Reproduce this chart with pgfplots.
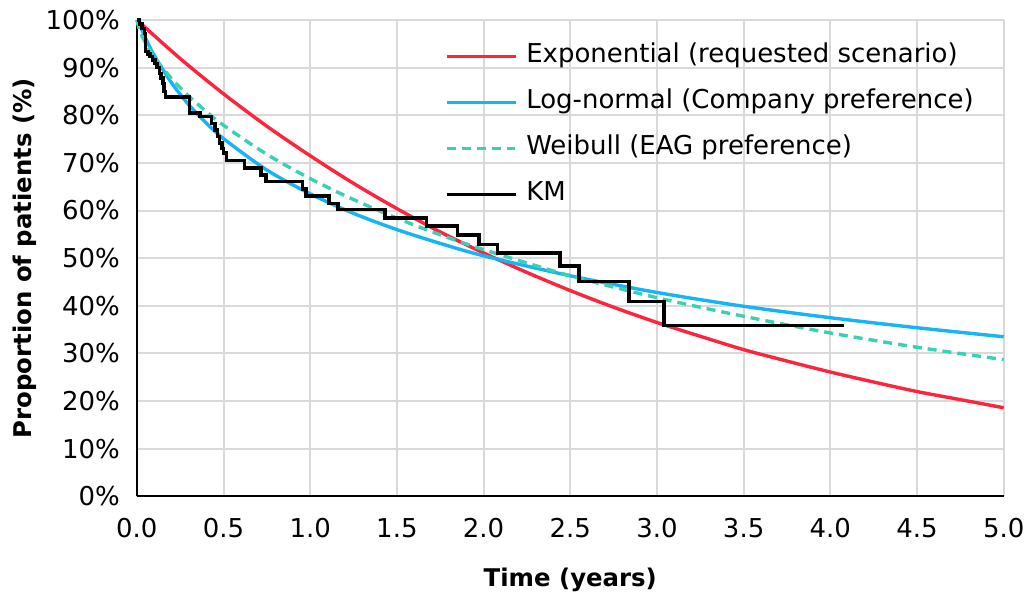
\documentclass[border=0pt]{standalone}
\usepackage{pgfplots}
\pgfplotsset{compat=1.18}
\usepackage{fontspec}
\setmainfont{DejaVu Sans}
\definecolor{expred}{RGB}{255,36,62}
\definecolor{lnblue}{RGB}{20,180,245}
\definecolor{wbteal}{RGB}{56,210,178}
\definecolor{gridgray}{RGB}{217,217,217}

\begin{document}
\fontsize{13}{15}\selectfont
\begin{tikzpicture}
\begin{axis}[
  at={(0,0)}, anchor=south west,
  scale only axis,
  width=434pt, height=238.5pt,
  xmin=0, xmax=5, ymin=0, ymax=100,
  xtick={0,0.5,...,5}, ytick={0,10,...,100},
  axis lines=left, axis line style={-, black, line width=1pt},
  grid=major, major grid style={gridgray, line width=1pt},
  major tick length=0pt,
  /pgf/number format/assume math mode=true,
  xticklabel={\pgfmathprintnumber[fixed,fixed zerofill,precision=1]{\tick}},
  yticklabel={\pgfmathprintnumber{\tick}\%},
  xticklabel style={yshift=-6.5pt},
  yticklabel style={xshift=-4pt},
  xlabel={\bfseries Time (years)},
  ylabel={\bfseries Proportion of patients (\%)},
  label style={font=\fontsize{12.2}{14}\selectfont},
  xlabel style={at={(axis description cs:0.5,0)}, anchor=center, yshift=-42pt},
  ylabel style={at={(axis description cs:-0.129,0.5)}, anchor=center, rotate=0},
  clip=false,
  legend cell align=left,
  legend style={at={(0.3548,0.949)}, anchor=north west, draw=none, fill=none,
    inner sep=0pt, row sep=11pt,
    nodes={inner sep=0pt, text height=9pt, text depth=3pt},
    /tikz/every odd column/.append style={column sep=4pt}},
  legend image code/.code={\draw[#1] (0pt,0pt) -- (35pt,0pt);},
]
% Exponential
\addplot[expred, line width=1.7pt, smooth] coordinates {
(0,100) (0.25,91.9) (0.5,84.5) (0.75,77.7) (1,71.5) (1.25,65.7) (1.5,60.4)
(1.75,55.5) (2,51.1) (2.25,47.0) (2.5,43.2) (2.75,39.7) (3,36.5) (3.25,33.6)
(3.5,30.8) (3.75,28.4) (4,26.1) (4.25,24.0) (4.5,22.0) (4.75,20.3) (5,18.6)};
\addlegendentry{Exponential (requested scenario)}
% Log-normal
\addplot[lnblue, line width=1.7pt, smooth] coordinates {
(0,100) (0.02,98.7) (0.05,96.2) (0.1,92.6) (0.2,86.8) (0.3,82.2) (0.4,78.4)
(0.5,75.1) (0.75,68.5) (1,63.5) (1.25,59.4) (1.5,56.0) (1.75,53.1) (2,50.5)
(2.5,46.3) (3,42.8) (3.5,39.9) (4,37.5) (4.5,35.4) (5,33.5)};
\addlegendentry{Log-normal (Company preference)}
% Weibull
\addplot[wbteal, line width=1.7pt, dash pattern=on 4.5pt off 3pt, smooth] coordinates {
(0,100) (0.02,97.4) (0.05,95.2) (0.1,92.2) (0.2,87.7) (0.3,84.0) (0.4,80.8)
(0.5,77.9) (0.75,71.8) (1,66.7) (1.25,62.3) (1.5,58.4) (1.75,54.9) (2,51.8)
(2.5,46.3) (3,41.7) (3.5,37.8) (4,34.3) (4.5,31.3) (5,28.7)};
\addlegendentry{Weibull (EAG preference)}
% KM
\addplot[black, line width=1.8pt, const plot] coordinates {
(0,100) (0.015,99.2) (0.03,98.2) (0.045,97.2) (0.05,93.4) (0.065,92.8)
(0.075,92.3) (0.09,91.6) (0.104,90.9) (0.115,90.0) (0.13,88.8) (0.14,87.8)
(0.152,86.7) (0.158,85.0) (0.165,83.8) (0.305,80.5) (0.365,79.7) (0.43,78.3)
(0.45,76.9) (0.465,75.5) (0.478,74.2) (0.49,73.0) (0.5,72.1) (0.517,70.5)
(0.62,68.9) (0.715,67.5) (0.745,66.1) (0.955,64.5) (0.975,63.1) (1.11,61.5)
(1.16,60.2) (1.43,58.4) (1.67,56.8) (1.85,54.9) (1.975,52.9) (2.08,51.1)
(2.44,48.3) (2.55,45.1) (2.84,40.9) (3.04,35.9) (4.08,35.9)};
\addlegendentry{KM}
\end{axis}
\path[use as bounding box] (-68.5pt,-47.5pt) rectangle (448pt,248.5pt);
\end{tikzpicture}
\end{document}
